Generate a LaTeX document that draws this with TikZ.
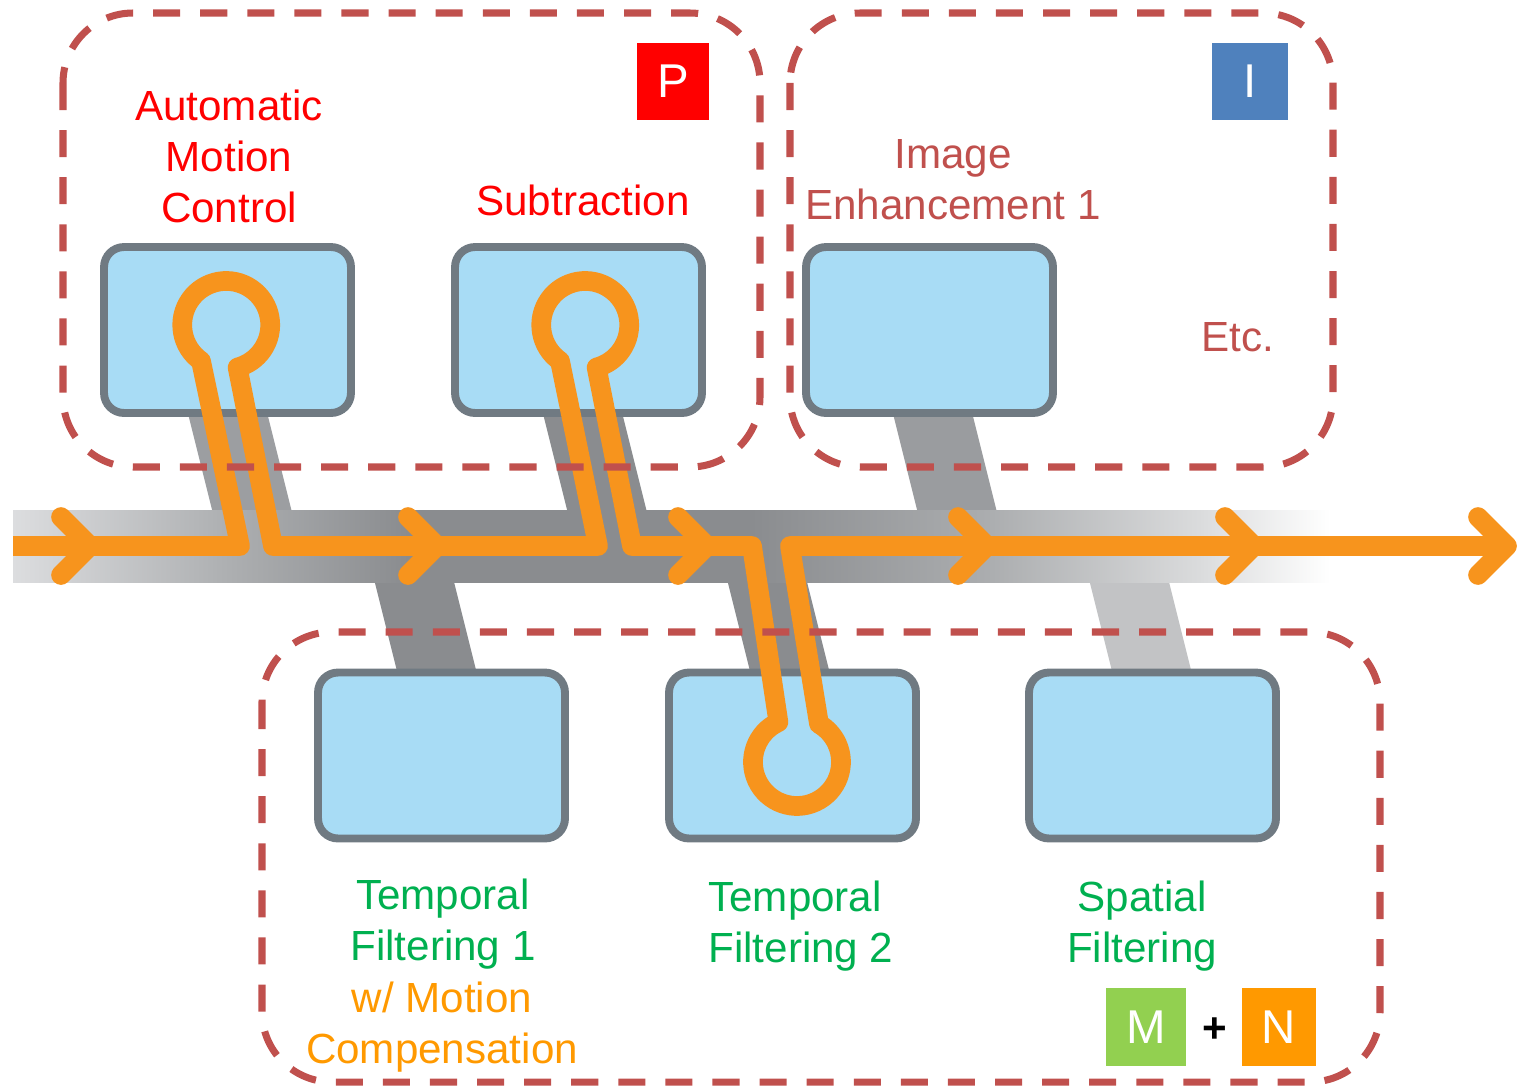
\documentclass[tikz,border=0pt]{standalone}
\usepackage{fontspec}
\setmainfont{Liberation Sans}
\usetikzlibrary{backgrounds}
\definecolor{busA}{HTML}{DCDDDF}
\definecolor{busB}{HTML}{AEB0B2}
\definecolor{busC}{HTML}{8A8C8F}
\definecolor{busD}{HTML}{ABADAF}
\definecolor{busE}{HTML}{DADBDC}
\definecolor{grpred}{HTML}{C0504D}
\definecolor{txtgreen}{HTML}{00B050}
\definecolor{txtorange}{HTML}{FF9900}
\pgfdeclarehorizontalshading{busshade}{100bp}{color(0bp)=(busA); color(25bp)=(busA); color(33bp)=(busB); color(40bp)=(busC); color(53bp)=(busC); color(62bp)=(busD); color(70bp)=(busE); color(75bp)=(white); color(100bp)=(white)}
\begin{document}
\begin{tikzpicture}[x={(0.02cm,0cm)},y={(0cm,-0.02cm)},
  block/.style={draw={rgb,255:red,112;green,122;blue,130}, fill={rgb,255:red,168;green,220;blue,245}, line width=4.5pt, rounded corners=0.4cm, minimum width=4.94cm, minimum height=3.32cm, inner sep=0pt, outer sep=0pt},
  stem/.style={draw={#1}, line width=1.54cm},
  flow/.style={draw={rgb,255:red,247;green,148;blue,29}, line width=11.2pt, line join=round},
  chev/.style={flow, line cap=round},
  grp/.style={draw=grpred, line width=4pt, dash pattern=on 15.4pt off 11.4pt, rounded corners=1.4cm},
  lab/.style={font=\fontsize{24}{29}\selectfont, align=center, inner sep=0pt},
  tag/.style={font=\fontsize{27}{32}\selectfont, text=white, inner sep=0pt, minimum height=1.55cm}]
\useasboundingbox (0,0) rectangle (1519,1086);
\node[shade, shading=busshade, minimum width=26.34cm, minimum height=1.44cm, inner sep=0pt, outer sep=0pt] (bus) at (671.5,546) {};
\node[block] (amc) at (227.5,330) {};
\node[block] (sub) at (578.5,330) {};
\node[block] (ie) at (929.5,330) {};
\node[block] (tf1) at (441.5,755.5) {};
\node[block] (tf2) at (792.5,755.5) {};
\node[block] (sf) at (1152.5,755.5) {};
\begin{scope}[on background layer]
\draw[stem={rgb,255:red,156;green,158;blue,161}] ([shift={(-20,-80)}]amc.south) -- ([shift={(30,120)}]amc.south);
\draw[stem=busC] ([shift={(-16,-80)}]sub.south) -- ([shift={(34,120)}]sub.south);
\draw[stem={rgb,255:red,154;green,156;blue,159}] ([shift={(-17,-80)}]ie.south) -- ([shift={(33,120)}]ie.south);
\draw[stem=busC] ([shift={(-34.5,-120)}]tf1.north) -- ([shift={(15.5,80)}]tf1.north);
\draw[stem=busC] ([shift={(-32.5,-120)}]tf2.north) -- ([shift={(17.5,80)}]tf2.north);
\draw[stem={rgb,255:red,194;green,195;blue,197}] ([shift={(-30.5,-120)}]sf.north) -- ([shift={(19.5,80)}]sf.north);
\end{scope}
\coordinate (in) at (13,546);
\coordinate (out) at (1507,546);
\draw[flow] (in) -- (240,546) -- (201,361) arc[start angle=125,end angle=435,radius=44] -- (273,546) -- (598,546) -- (560,361) arc[start angle=125,end angle=435,radius=44] -- (632,546) -- (752,546) -- (778.4,722.1) arc[start angle=245,end angle=-60,radius=44] -- (790,546) -- (out);
\foreach \t in {90,437,707,987,1254,1507}
  \draw[chev] (\t-29,517) -- (\t,546) -- (\t-29,575);
\draw[grp] (63,13) rectangle (760,467);
\draw[grp] (790,13) rectangle (1333,467);
\draw[grp] (262,632) rectangle (1380,1082);
\node[lab, text=red] (amclab) at (229,156) {Automatic\\Motion\\Control};
\node[lab, text=red] (sublab) at (583,200) {Subtraction};
\node[lab, text=grpred] (ielab) at (953,180) {Image\\Enhancement 1};
\node[lab, text=grpred] (etc) at (1238,337) {Etc.};
\node[lab, text=txtgreen] (tf1lab) at (443,924) {Temporal\\Filtering 1};
\node[lab, text=txtorange] (tf1note) at (442,1027) {w/ Motion\\Compensation};
\node[lab, text=txtgreen, align=left, anchor=west] (tf2lab) at (708,926) {Temporal\\Filtering 2};
\node[lab, text=txtgreen] (sflab) at (1142,926) {Spatial\\Filtering};
\node[tag, fill=red, minimum width=1.44cm] (ptag) at (673,81.5) {P};
\node[tag, fill={rgb,255:red,79;green,129;blue,189}, minimum width=1.52cm] (itag) at (1250,81.5) {I};
\node[tag, fill={rgb,255:red,146;green,208;blue,80}, minimum width=1.6cm] (mtag) at (1146,1027) {M};
\node[lab, font=\fontsize{24}{29}\selectfont\bfseries] (plus) at (1215,1030) {+};
\node[tag, fill=txtorange, minimum width=1.48cm] (ntag) at (1279,1027) {N};
\end{tikzpicture}
\end{document}
